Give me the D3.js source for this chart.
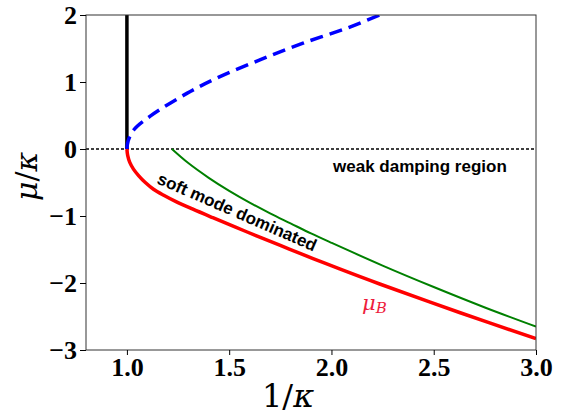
<!DOCTYPE html>
<html>
<head>
<meta charset="utf-8">
<script src="https://cdn.jsdelivr.net/npm/d3@7"></script>
<style>
  body { margin: 0; background: #fff; }
  svg { display: block; }
  .tick text { font-family: "Liberation Serif", serif; font-weight: bold; font-size: 26px; fill: #000; }
  .tick line { stroke: #000; }
  .domain { display: none; }
</style>
</head>
<body>
<svg id="chart"></svg>
<script>
// values
const xTicks = [1.0, 1.5, 2.0, 2.5, 3.0];
const yTicks = [-3, -2, -1, 0, 1, 2];

const blueX = [1.0, 1.006, 1.032, 1.114, 1.293, 1.455, 1.65, 1.861, 2.09, 2.236];
const blueY = [0, 0.12, 0.28, 0.49, 0.83, 1.08, 1.33, 1.58, 1.82, 2.0];

const redX = [1.0, 1.004, 1.014, 1.032, 1.058, 1.09, 1.13, 1.18, 1.24, 1.32, 1.42, 1.585, 1.75, 1.91, 2.04, 2.236, 2.626, 3.0];
const redY = [0, -0.1, -0.2, -0.3, -0.4, -0.5, -0.6, -0.69, -0.785, -0.895, -1.025, -1.235, -1.44, -1.635, -1.79, -2.015, -2.44, -2.83];

const greenX = [1.22, 1.3, 1.4, 1.5, 1.6, 1.7, 1.8, 1.9, 2.0, 2.25, 2.5, 2.75, 3.0];
const greenY = [0, -0.21, -0.43, -0.625, -0.80, -0.96, -1.11, -1.26, -1.40, -1.74, -2.06, -2.365, -2.65];

const vlineX = [1.0, 1.0];
const vlineY = [0, 2.2];

const w = 567;
const h = 416;
const m = {left: 86, right: 31, top: 15, bottom: 66};

const x = d3.scaleLinear().domain([0.8, 3.0]).range([m.left, w - m.right]);
const y = d3.scaleLinear().domain([-3, 2]).range([h - m.bottom, m.top]);

const svg = d3.select('#chart').attr('width', w).attr('height', h);

svg.append('clipPath').attr('id', 'clip')
  .append('rect')
  .attr('x', m.left).attr('y', m.top)
  .attr('width', w - m.left - m.right).attr('height', h - m.top - m.bottom);

const plot = svg.append('g').attr('clip-path', 'url(#clip)');

const line = d3.line().x(d => x(d[0])).y(d => y(d[1])).curve(d3.curveCatmullRom.alpha(0.5));
const zip = (a, b) => a.map((v, i) => [v, b[i]]);

// zero line
plot.append('line')
  .attr('x1', x(0.8)).attr('x2', x(3.0))
  .attr('y1', y(0)).attr('y2', y(0))
  .attr('stroke', '#000').attr('stroke-width', 1.5)
  .attr('stroke-dasharray', '3,2');

plot.append('path')
  .attr('d', d3.line().x(d => x(d[0])).y(d => y(d[1]))(zip(vlineX, vlineY)))
  .attr('stroke', '#000').attr('stroke-width', 3.5).attr('fill', 'none');

plot.append('path')
  .attr('d', line(zip(greenX, greenY)))
  .attr('stroke', '#008000').attr('stroke-width', 2).attr('fill', 'none');

plot.append('path')
  .attr('d', line(zip(redX, redY)))
  .attr('stroke', '#ff0000').attr('stroke-width', 3.5).attr('fill', 'none');

plot.append('path')
  .attr('d', line(zip(blueX, blueY)))
  .attr('stroke', '#0000ff').attr('stroke-width', 3.5).attr('fill', 'none')
  .attr('stroke-dasharray', '13,7');

// frame
svg.append('rect')
  .attr('x', m.left).attr('y', m.top)
  .attr('width', w - m.left - m.right).attr('height', h - m.top - m.bottom)
  .attr('fill', 'none').attr('stroke', '#333').attr('stroke-width', 1);

const xAxis = d3.axisBottom(x).tickValues(xTicks).tickFormat(d3.format('.1f')).tickSize(5).tickPadding(3);
svg.append('g')
  .attr('transform', `translate(0,${h - m.bottom})`)
  .call(xAxis);

const yAxis = d3.axisLeft(y).tickValues(yTicks).tickFormat(d3.format('d')).tickSize(6).tickPadding(3);
svg.append('g')
  .attr('transform', `translate(${m.left},0)`)
  .call(yAxis);

// axis labels
const xl = svg.append('text')
  .attr('x', 262).attr('y', 407)
  .attr('font-family', 'DejaVu Serif').attr('font-size', 32);
xl.append('tspan').text('1/');
xl.append('tspan').attr('font-style', 'italic').text('κ');

const yl = svg.append('text')
  .attr('transform', 'translate(37,201) rotate(-90)')
  .attr('font-family', 'DejaVu Serif').attr('font-size', 30);
yl.append('tspan').attr('font-style', 'italic').text('μ');
yl.append('tspan').text('/');
yl.append('tspan').attr('font-style', 'italic').text('κ');

// annotations
svg.append('text')
  .attr('x', 333).attr('y', 172)
  .attr('font-family', 'Liberation Sans').attr('font-weight', 'bold').attr('font-size', 17)
  .text('weak damping region');

svg.append('text')
  .attr('transform', 'translate(156,183) rotate(23.5)')
  .attr('font-family', 'Liberation Sans').attr('font-weight', 'bold').attr('font-size', 17)
  .text('soft mode dominated');

const mu = svg.append('text')
  .attr('x', 362).attr('y', 310)
  .attr('font-family', 'DejaVu Serif').attr('font-style', 'italic')
  .attr('fill', '#ee1c3c').attr('font-size', 21);
mu.append('tspan').text('μ');
mu.append('tspan').attr('font-size', 15).attr('dy', 3).text('B');
</script>
</body>
</html>
